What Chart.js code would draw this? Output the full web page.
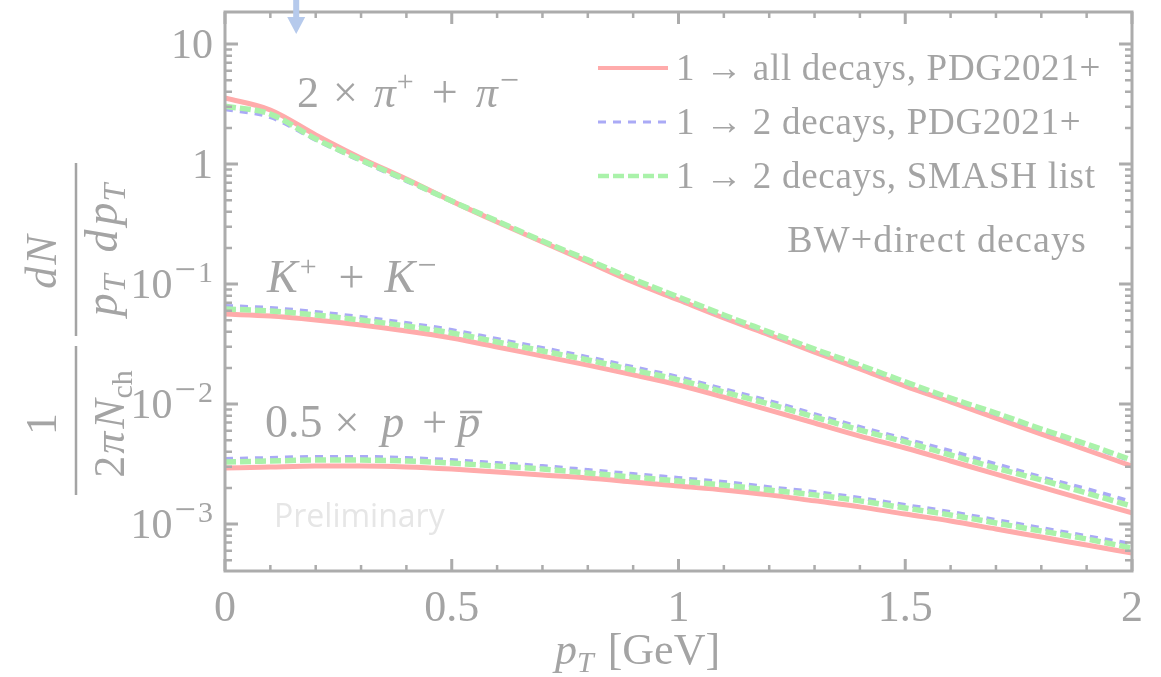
<!DOCTYPE html>
<html>
<head>
<meta charset="utf-8">
<script src="https://cdn.jsdelivr.net/npm/chart.js@4.4.1/dist/chart.umd.min.js"></script>
<style>
  html, body { margin: 0; padding: 0; background: #fff; }
</style>
</head>
<body>
<canvas id="c" width="1161" height="677"></canvas>
<script>
// pT grid [GeV]
const pT = [0, 0.1, 0.2, 0.3, 0.4, 0.5, 0.6, 0.7, 0.8, 0.9, 1.0,
            1.1, 1.2, 1.3, 1.4, 1.5, 1.6, 1.7, 1.8, 1.9, 2.0];

// 2 x pi+ + pi-
const pionAll    = [3.55, 2.82, 1.75, 1.12, 0.750, 0.491, 0.329, 0.224, 0.153, 0.104, 0.0736,
                    0.0521, 0.0376, 0.0271, 0.0196, 0.0141, 0.0104, 0.00764, 0.00562, 0.00414, 0.00304];
const pion2PDG   = [2.87, 2.46, 1.59, 1.06, 0.721, 0.491, 0.335, 0.228, 0.159, 0.110, 0.0764,
                    0.0541, 0.0390, 0.0282, 0.0207, 0.0150, 0.0110, 0.00825, 0.00607, 0.00455, 0.00335];
const pion2SMASH = [3.04, 2.61, 1.62, 1.08, 0.736, 0.491, 0.335, 0.228, 0.159, 0.110, 0.0779,
                    0.0552, 0.0398, 0.0287, 0.0211, 0.0153, 0.0112, 0.00841, 0.00619, 0.00464, 0.00341];

// K+ + K-
const kaonAll    = [0.0562, 0.0541, 0.0501, 0.0455, 0.0406, 0.0355, 0.0299, 0.0251, 0.0211, 0.0175, 0.0144,
                    0.0114, 0.00891, 0.00695, 0.00541, 0.00430, 0.00335, 0.00261, 0.00203, 0.00158, 0.00124];
const kaon2PDG   = [0.0656, 0.0631, 0.0584, 0.0531, 0.0473, 0.0414, 0.0348, 0.0293, 0.0246, 0.0203, 0.0168,
                    0.0133, 0.0106, 0.00825, 0.00643, 0.00511, 0.00406, 0.00316, 0.00246, 0.00196, 0.00153];
const kaon2SMASH = [0.0619, 0.0596, 0.0552, 0.0501, 0.0447, 0.0391, 0.0329, 0.0277, 0.0233, 0.0192, 0.0159,
                    0.0126, 0.0100, 0.00779, 0.00607, 0.00483, 0.00376, 0.00293, 0.00233, 0.00181, 0.00141];

// 0.5 x p + pbar
const protonAll    = [0.00293, 0.00299, 0.00304, 0.00304, 0.00299, 0.00287, 0.00271, 0.00256, 0.00242, 0.00224, 0.00207,
                      0.00192, 0.00175, 0.00156, 0.00139, 0.00121, 0.00106, 0.000908, 0.000779, 0.000668, 0.000573];
const proton2PDG   = [0.00348, 0.00355, 0.00362, 0.00362, 0.00355, 0.00341, 0.00322, 0.00304, 0.00282, 0.00261, 0.00242,
                      0.00224, 0.00203, 0.00185, 0.00165, 0.00144, 0.00126, 0.00108, 0.000926, 0.000794, 0.000681];
const proton2SMASH = [0.00329, 0.00335, 0.00341, 0.00341, 0.00335, 0.00322, 0.00304, 0.00287, 0.00266, 0.00246, 0.00228,
                      0.00211, 0.00192, 0.00175, 0.00156, 0.00136, 0.00119, 0.00102, 0.000874, 0.000750, 0.000631];

const xTicks = [0, 0.5, 1, 1.5, 2];
const xTickLabels = ['0', '0.5', '1', '1.5', '2'];
const yDecades = [-3, -2, -1, 0, 1];
const legendLabels = ['1 \u2192 all decays, PDG2021+', '1 \u2192 2 decays, PDG2021+', '1 \u2192 2 decays, SMASH list'];
const arrowAt = 0.157;

const GRAY = '#a4a4a4';
const AXIS = '#acacac';
const RED = '#ffabab';
const BLUE = '#aaaaf6';
const GREEN = '#aaf2aa';
const SERIF = '"Liberation Serif", "DejaVu Serif", serif';

function pts(ys) { return pT.map((x, i) => ({ x: x, y: ys[i] })); }

const styles = [
  { color: RED, width: 5, dash: [], order: 3 },
  { color: BLUE, width: 4, dash: [8, 7], order: 2 },
  { color: GREEN, width: 5.5, dash: [11, 4], order: 1 }
];

function ds(ys, k) {
  const s = styles[k];
  return {
    data: pts(ys), borderColor: s.color, borderWidth: s.width, borderDash: s.dash,
    order: s.order, pointRadius: 0, fill: false, cubicInterpolationMode: 'monotone'
  };
}

function font(size, italic) { return (italic ? 'italic ' : '') + size + 'px ' + SERIF; }

// draws a row of text pieces; g = extra gap before a piece, dy = vertical shift
function rich(ctx, x, y, segs, align) {
  let w = 0;
  segs.forEach(s => { ctx.font = font(s.s, s.i); s.w = ctx.measureText(s.t).width; w += s.w + (s.g || 0); });
  let cx = align === 'right' ? x - w : align === 'center' ? x - w / 2 : x;
  ctx.textAlign = 'left';
  segs.forEach(s => {
    cx += s.g || 0;
    ctx.font = font(s.s, s.i);
    s.x = cx;
    ctx.fillText(s.t, cx, y + (s.dy || 0));
    cx += s.w;
  });
  return segs;
}

const decor = {
  id: 'decor',
  afterDraw(chart) {
    const ctx = chart.ctx, a = chart.chartArea, xs = chart.scales.x, ys = chart.scales.y;
    ctx.save();
    ctx.strokeStyle = AXIS;
    ctx.fillStyle = GRAY;
    ctx.textBaseline = 'alphabetic';

    // frame
    ctx.lineWidth = 3;
    ctx.strokeRect(a.left, a.top, a.right - a.left, a.bottom - a.top);

    // x ticks, both sides
    for (let i = 0; i <= 20; i++) {
      const v = i / 10, px = xs.getPixelForValue(v), major = i % 5 === 0;
      const len = major ? 12 : 6;
      ctx.lineWidth = major ? 3 : 2.5;
      ctx.beginPath();
      ctx.moveTo(px, a.bottom); ctx.lineTo(px, a.bottom - len);
      ctx.moveTo(px, a.top); ctx.lineTo(px, a.top + len);
      ctx.stroke();
    }
    // y ticks, both sides
    for (let d = -4; d <= 1; d++) {
      for (let k = 1; k <= 9; k++) {
        const v = k * Math.pow(10, d);
        if (v < ys.min || v > ys.max) continue;
        const py = ys.getPixelForValue(v), major = k === 1;
        const len = major ? 13 : 7;
        ctx.lineWidth = major ? 3 : 2.5;
        ctx.beginPath();
        ctx.moveTo(a.left, py); ctx.lineTo(a.left + len, py);
        ctx.moveTo(a.right, py); ctx.lineTo(a.right - len, py);
        ctx.stroke();
      }
    }

    // x tick labels
    ctx.textAlign = 'center';
    ctx.font = font(44);
    xTicks.forEach((v, i) => ctx.fillText(xTickLabels[i], xs.getPixelForValue(v), 621));

    // y tick labels
    yDecades.forEach(d => {
      const py = ys.getPixelForValue(Math.pow(10, d)) + 14;
      if (d === 0) rich(ctx, 213, py, [{ t: '1', s: 42 }], 'right');
      else if (d === 1) rich(ctx, 213, py, [{ t: '10', s: 42 }], 'right');
      else rich(ctx, 213, py, [{ t: '10', s: 42 }, { t: '\u2212', s: 38, dy: -16, g: 2 },
                               { t: String(-d), s: 30, dy: -16, g: 2 }], 'right');
    });

    // x title
    rich(ctx, 555, 664, [{ t: 'p', s: 44, i: true }, { t: 'T', s: 30, i: true, dy: 8 }, { t: '[GeV]', s: 44, g: 14 }], 'left');

    // y title (rotated fraction)
    ctx.save();
    ctx.rotate(-Math.PI / 2);
    rich(ctx, -424, 56, [{ t: '1', s: 44 }], 'center');
    rich(ctx, -424, 124, [{ t: '2', s: 44 }, { t: '\u03c0', s: 44, i: true, g: 2 }, { t: 'N', s: 44, i: true, g: 3 },
                          { t: 'ch', s: 30, dy: 8, g: 1 }], 'center');
    rich(ctx, -262, 56, [{ t: 'd', s: 44, i: true }, { t: 'N', s: 44, i: true, g: 2 }], 'center');
    rich(ctx, -250, 117, [{ t: 'p', s: 46, i: true }, { t: 'T', s: 32, i: true, dy: 8, g: 1 }, { t: 'd', s: 46, i: true, g: 22 },
                          { t: 'p', s: 46, i: true, g: 4 }, { t: 'T', s: 32, i: true, dy: 8, g: 1 }], 'center');
    ctx.lineWidth = 2.5;
    ctx.strokeStyle = GRAY;
    ctx.beginPath();
    ctx.moveTo(-495, 76); ctx.lineTo(-346, 76);
    ctx.moveTo(-336, 76); ctx.lineTo(-163, 76);
    ctx.stroke();
    ctx.restore();

    // species labels
    rich(ctx, 297, 107, [{ t: '2', s: 44 }, { t: '\u00d7', s: 44, g: 14 }, { t: '\u03c0', s: 44, i: true, g: 16 },
                         { t: '+', s: 30, dy: -16, g: 1 }, { t: '+', s: 46, g: 18 }, { t: '\u03c0', s: 44, i: true, g: 18 },
                         { t: '\u2212', s: 34, dy: -16, g: 2 }], 'left');
    rich(ctx, 267, 292, [{ t: 'K', s: 46, i: true }, { t: '+', s: 30, dy: -16, g: 2 }, { t: '+', s: 46, g: 22 },
                         { t: 'K', s: 46, i: true, g: 20 }, { t: '\u2212', s: 34, dy: -16, g: 2 }], 'left');
    const pl = rich(ctx, 265, 437, [{ t: '0.5', s: 46 }, { t: '\u00d7', s: 44, g: 12 }, { t: 'p', s: 46, i: true, g: 22 },
                                    { t: '+', s: 44, g: 18 }, { t: 'p', s: 46, i: true, g: 10 }], 'left');
    const pb = pl[pl.length - 1];
    ctx.lineWidth = 2.5;
    ctx.strokeStyle = GRAY;
    ctx.beginPath();
    ctx.moveTo(pb.x + 3, 412); ctx.lineTo(pb.x + pb.w + 2, 412);
    ctx.stroke();

    // legend
    legendLabels.forEach((lab, i) => {
      const y = 68 + i * 54, s = styles[i];
      ctx.strokeStyle = s.color;
      ctx.lineWidth = s.width - 1;
      ctx.setLineDash(s.dash);
      ctx.beginPath();
      ctx.moveTo(598, y); ctx.lineTo(668, y);
      ctx.stroke();
      ctx.setLineDash([]);
      ctx.fillStyle = GRAY;
      ctx.textAlign = 'left';
      ctx.font = font(37);
      ctx.letterSpacing = '0.7px';
      ctx.fillText(lab, 676, y + 12);
      ctx.letterSpacing = '0px';
    });
    ctx.textAlign = 'right';
    ctx.font = font(38);
    ctx.letterSpacing = '1.1px';
    ctx.fillText('BW+direct decays', 1087, 252);
    ctx.letterSpacing = '0px';

    // watermark
    ctx.textAlign = 'left';
    ctx.fillStyle = '#e6e6e6';
    ctx.font = '32px "Open Sans", sans-serif';
    ctx.fillText('Preliminary', 274, 527);

    // arrow at top
    const ax = xs.getPixelForValue(arrowAt);
    ctx.fillStyle = '#b6caec';
    ctx.fillRect(ax - 3, 0, 6, 18);
    ctx.beginPath();
    ctx.moveTo(ax - 9, 17); ctx.lineTo(ax + 9, 17); ctx.lineTo(ax, 34);
    ctx.closePath();
    ctx.fill();
    ctx.restore();
  }
};

new Chart(document.getElementById('c'), {
  type: 'line',
  data: {
    datasets: [
      ds(pionAll, 0), ds(pion2PDG, 1), ds(pion2SMASH, 2),
      ds(kaonAll, 0), ds(kaon2PDG, 1), ds(kaon2SMASH, 2),
      ds(protonAll, 0), ds(proton2PDG, 1), ds(proton2SMASH, 2)
    ]
  },
  options: {
    responsive: false,
    devicePixelRatio: 1,
    animation: false,
    layout: { padding: { top: 12, right: 29, left: 0, bottom: 0 } },
    plugins: { legend: { display: false }, tooltip: { enabled: false } },
    scales: {
      x: {
        type: 'linear', min: 0, max: 2,
        grid: { display: false }, border: { display: false },
        ticks: { display: false },
        afterFit(s) { s.height = 106; }
      },
      y: {
        type: 'logarithmic', min: 4.06e-4, max: 18.5,
        grid: { display: false }, border: { display: false },
        ticks: { display: false },
        afterFit(s) { s.width = 225; }
      }
    }
  },
  plugins: [decor]
});
</script>
</body>
</html>
